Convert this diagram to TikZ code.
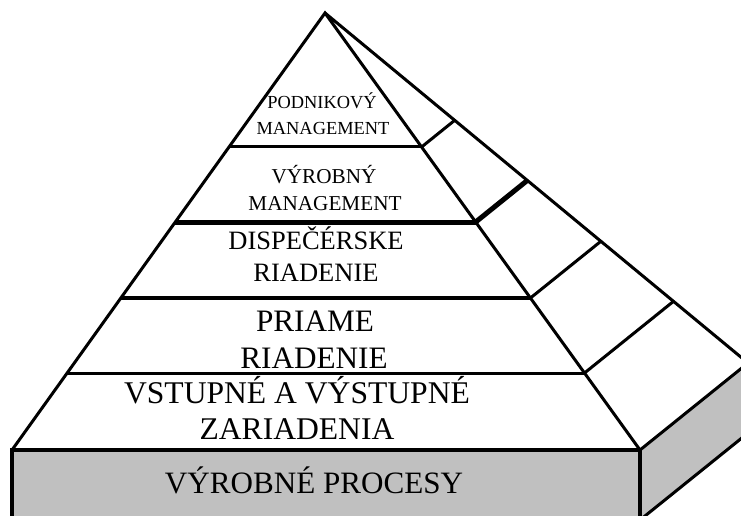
\documentclass[tikz,border=0pt]{standalone}
\usepackage{fontspec}
\setmainfont{Liberation Serif}
\usetikzlibrary{calc}
\definecolor{basegray}{RGB}{192,192,192}
\begin{document}
\begin{tikzpicture}[x=1pt,y=-1pt,
  edge/.style={line width=3pt,line join=miter},
  heavy/.style={line width=5pt},
  midline/.style={line width=4pt},
  lbl/.style={anchor=base,inner sep=0pt,text=black}]
\useasboundingbox (0,0) rectangle (741,516);
\clip (0,0) rectangle (741,516);

% corners of the pyramid and of the base slab
\coordinate (A)   at (325,13);
\coordinate (BL)  at (12,450);
\coordinate (BR)  at (640,450);
\coordinate (C)   at (748,363);
\coordinate (BLb) at (12,520);
\coordinate (BRb) at (640,520);
\coordinate (Cb)  at (748,433);

% base slab: front and side faces
\fill[basegray] (BL) rectangle (BRb);
\fill[basegray] (BR) -- (C) -- (Cb) -- (BRb) -- cycle;
\draw[line width=3.5pt] (BLb) -- (BL) -- (BR) -- (BRb);
\draw[edge] (BR) -- (C) -- (Cb);
\draw[edge] (BRb) -- (Cb);

% level points on the three pyramid edges
\foreach \n/\t in {1/0.3066,2/0.4783,3/0.6522,4/0.8238}{
  \coordinate (L\n) at ($(A)!\t!(BL)$);
  \coordinate (R\n) at ($(A)!\t!(BR)$);
  \coordinate (K\n) at ($(A)!\t!(C)$);
}

% horizontal level lines on the front face
\draw[edge]    (L1) -- (R1);
\draw[heavy]   (L2) -- (R2);
\draw[midline] (L3) -- (R3);
\draw[edge]    (L4) -- (R4);

% level lines on the side face
\draw[edge]  (R1) -- (K1);
\draw[heavy] (R2) -- (K2);
\draw[edge]  (R3) -- (K3);
\draw[edge]  (R4) -- (K4);

% pyramid edges
\draw[edge] (BL) -- (A) -- (BR);
\draw[edge] (A) -- (C);

% level captions
\node[lbl,font=\fontsize{18.4}{22}\selectfont] (t1a) at (322,109) {PODNIKOVÝ};
\node[lbl,font=\fontsize{18.4}{22}\selectfont] (t1b) at (323,135) {MANAGEMENT};
\node[lbl,font=\fontsize{21.2}{25}\selectfont] (t2a) at (324,183) {VÝROBNÝ};
\node[lbl,font=\fontsize{21.2}{25}\selectfont] (t2b) at (325,210) {MANAGEMENT};
\node[lbl,font=\fontsize{26.5}{31}\selectfont] (t3a) at (316,249) {DISPEČÉRSKE};
\node[lbl,font=\fontsize{26.5}{31}\selectfont] (t3b) at (316,281) {RIADENIE};
\node[lbl,font=\fontsize{31.2}{36}\selectfont] (t4a) at (315,331) {PRIAME};
\node[lbl,font=\fontsize{31.2}{36}\selectfont] (t4b) at (314,368) {RIADENIE};
\node[lbl,font=\fontsize{31.6}{37}\selectfont] (t5a) at (297,403) {VSTUPNÉ A VÝSTUPNÉ};
\node[lbl,font=\fontsize{31.6}{37}\selectfont] (t5b) at (297,439) {ZARIADENIA};
\node[lbl,font=\fontsize{31.1}{36}\selectfont] (t6)  at (314,493) {VÝROBNÉ PROCESY};
\end{tikzpicture}
\end{document}
